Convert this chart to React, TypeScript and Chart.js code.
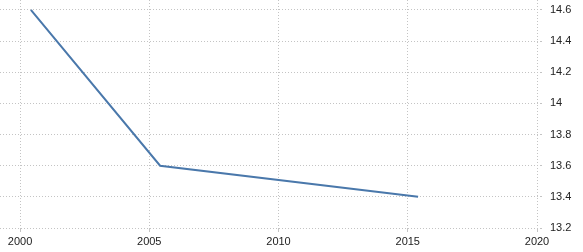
import React, { useEffect, useRef } from "react";
import Chart from "chart.js/auto";

const years = [2000.42, 2005.42, 2015.4];
const values = [14.6, 13.6, 13.4];
const xTicks = [2000, 2005, 2010, 2015, 2020];
const yTicks = [13.2, 13.4, 13.6, 13.8, 14.0, 14.2, 14.4, 14.6];

export default function App() {
  const ref = useRef<HTMLCanvasElement | null>(null);
  useEffect(() => {
    document.body.style.margin = "0";
    const ctx = ref.current!;
    const font = { family: "'Liberation Sans', Arial, sans-serif", size: 11 };
    const grid = {
      color: "#c4c4c4",
      lineWidth: 1,
      tickLength: 4,
      tickColor: "#c4c4c4",
    };
    const chart = new Chart(ctx, {
      type: "line",
      data: {
        datasets: [
          {
            data: years.map((x, i) => ({ x, y: values[i] })),
            borderColor: "#4a78ab",
            borderWidth: 2,
            pointRadius: 0,
            tension: 0,
            fill: false,
          },
        ],
      },
      options: {
        animation: false,
        responsive: false,
        maintainAspectRatio: false,
        layout: { padding: 0 },
        plugins: { legend: { display: false }, tooltip: { enabled: false } },
        scales: {
          x: {
            type: "linear",
            min: 1999.226,
            max: 2020.116,
            afterBuildTicks: (s: any) => {
              s.ticks = xTicks.map((v) => ({ value: v }));
            },
            afterFit: (s: any) => {
              s.height = 24;
              s.paddingLeft = 0;
              s.paddingRight = 0;
            },
            ticks: {
              autoSkip: false,
              maxRotation: 0,
              padding: 3,
              color: "#222",
              font,
              callback: (v: any) => String(v),
            },
            grid: { ...grid } as any,
            border: { display: false, dash: [1, 2] },
          },
          y: {
            type: "linear",
            position: "right",
            min: 13.2,
            max: 14.664,
            afterBuildTicks: (s: any) => {
              s.ticks = yTicks.map((v) => ({ value: v }));
            },
            afterFit: (s: any) => {
              s.width = 43;
              s.paddingTop = 0;
              s.paddingBottom = 0;
            },
            ticks: {
              padding: 8,
              color: "#222",
              font,
              callback: (v: any) => String(Number(Number(v).toFixed(1))),
            },
            grid: { ...grid, tickLength: 2 } as any,
            border: { display: false, dash: [1, 2] },
          },
        },
      },
    } as any);
    return () => chart.destroy();
  }, []);
  return <canvas ref={ref} width={583} height={252} style={{ display: "block" }} />;
}
